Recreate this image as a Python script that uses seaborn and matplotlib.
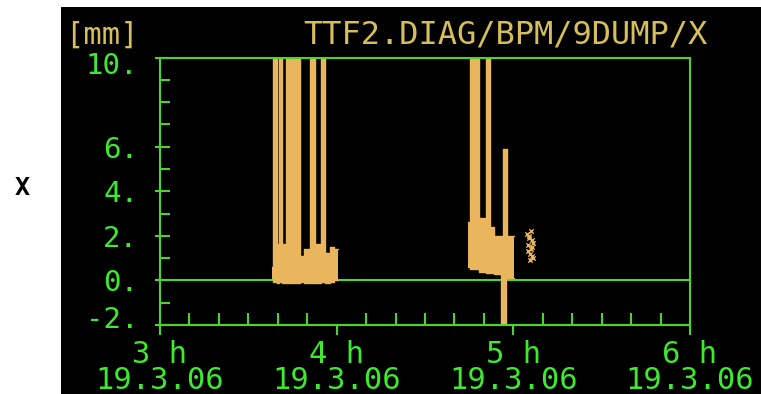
import pandas as pd
import matplotlib
matplotlib.use('Agg')
import matplotlib.pyplot as plt
from matplotlib.patches import Rectangle
from matplotlib.ticker import MultipleLocator
from matplotlib.transforms import ScaledTranslation
import seaborn as sns

# BPM readout TTF2.DIAG/BPM/9DUMP/X, hours on 19.3.06
# envelope of the dense readout, as step segments (edge times, low/high per segment)
run1_edges = [3.634, 3.640, 3.662, 3.674, 3.691, 3.713, 3.792, 3.815, 3.849,
              3.877, 3.911, 3.934, 3.962, 3.985, 4.010]
run1_high = [0.6, 12, 1.65, 12, 1.65, 12, 1.1, 1.4, 12, 1.65, 12, 1.25, 1.5, 1.4]
run1_low = [0.1, -0.05, -0.1, -0.05, -0.1, -0.1, -0.05, -0.1, -0.1, -0.1,
            -0.05, -0.1, -0.05, 0.0]

run2_edges = [4.743, 4.755, 4.806, 4.845, 4.868, 4.891, 4.930, 4.941, 4.958,
              4.964, 5.002]
run2_high = [2.6, 12, 2.8, 12, 2.4, 2.0, 2.0, 5.9, 5.9, 2.0]
run2_low = [0.6, 0.5, 0.4, 0.35, 0.35, 0.3, -2.1, -2.1, 0.1, 0.1]

# sparse points after the second run
tail_t = [5.080, 5.083, 5.085, 5.088, 5.090, 5.093, 5.095, 5.098, 5.100,
          5.103, 5.105, 5.108, 5.110, 5.113]
tail_x = [2.1, 1.3, 1.6, 2.0, 1.9, 0.9, 1.2, 1.4, 2.2, 1.8, 1.5, 1.1, 1.0, 1.7]

y_ticks = [-2, 0, 2, 4, 6, 10]
y_ticklabels = ['-2.', '0.', '2.', '4.', '6.', '10.']
x_ticks = [3, 4, 5, 6]
x_ticklabels = ['3 h\n19.3.06', '4 h\n19.3.06', '5 h\n19.3.06', '6 h\n19.3.06']

ORANGE = '#E9B65E'
GREEN_LINE = '#4CD42C'
GREEN_TXT = '#3DEB2E'
TITLE_C = '#D6BE5C'
PX = 0.72  # points per pixel at dpi 100


def envelope(edges, low, high):
    return pd.DataFrame({'t': edges, 'low': low + low[-1:], 'high': high + high[-1:]})


sns.set_theme(style='white')
plt.rcParams['font.family'] = ['DejaVu Sans Mono', 'DejaVu Sans']

fig = plt.figure(figsize=(7.61, 3.94), dpi=100, facecolor='white')
fig.patches.append(Rectangle((61 / 761, 0), 700 / 761, 387 / 394,
                             transform=fig.transFigure, facecolor='black',
                             edgecolor='none', zorder=-10))
ax = fig.add_axes([160 / 761, 69 / 394, 530 / 761, 267.5 / 394])
ax.set_facecolor('black')

ax.axhline(0, color=GREEN_LINE, lw=1.5, zorder=1)

for env in (envelope(run1_edges, run1_low, run1_high),
            envelope(run2_edges, run2_low, run2_high)):
    ax.fill_between(env['t'], env['low'], env['high'], step='post',
                    color=ORANGE, lw=0, zorder=2)
    for col in ('low', 'high'):
        sns.lineplot(data=env, x='t', y=col, drawstyle='steps-post', color=ORANGE,
                     lw=1, estimator=None, sort=False, ax=ax, zorder=2)

sns.scatterplot(x=tail_t, y=tail_x, marker='x', s=10, color=ORANGE,
                linewidth=1, ax=ax, zorder=2)

ax.set_xlim(3, 6)
ax.set_ylim(-2, 10)
ax.set_xlabel('')
ax.set_ylabel('')

for sp in ax.spines.values():
    sp.set_visible(True)
    sp.set_color(GREEN_LINE)
    sp.set_linewidth(1.5)

ax.set_xticks(x_ticks)
ax.set_xticklabels(x_ticklabels, linespacing=0.85)
ax.xaxis.set_minor_locator(MultipleLocator(1 / 6))
ax.tick_params(axis='x', which='major', direction='in', length=22 * PX, width=1.5,
               color=GREEN_LINE, labelcolor=GREEN_TXT, labelsize=22, pad=11)
ax.tick_params(axis='x', which='minor', direction='in', length=12 * PX, width=1.5,
               color=GREEN_LINE, bottom=True)

sec = ax.secondary_xaxis('bottom')
sec.set_xticks(x_ticks)
sec.tick_params(direction='out', length=10 * PX, width=1.5, color=GREEN_LINE,
                labelbottom=False)
sec.spines['bottom'].set_color(GREEN_LINE)
sec.spines['bottom'].set_linewidth(1.5)

ax.set_yticks(y_ticks)
ax.set_yticklabels(y_ticklabels)
ax.yaxis.set_minor_locator(MultipleLocator(1))
ax.yaxis.remove_overlapping_locs = False
ax.tick_params(axis='y', which='major', direction='out', length=5 * PX, width=1.5,
               color=GREEN_LINE, labelcolor=GREEN_TXT, labelsize=21, pad=12, left=True)
ax.tick_params(axis='y', which='minor', direction='in', length=10 * PX, width=1.5,
               color=GREEN_LINE, left=True)

# end labels sit inside the frame, as on the scope display
for lab, dy in zip(ax.get_yticklabels(), [8, 0, 0, 0, 0, -5]):
    lab.set_transform(lab.get_transform() + ScaledTranslation(0, dy / 100, fig.dpi_scale_trans))

fig.text(65 / 761, 1 - 35 / 394, '[mm]', color=TITLE_C, fontsize=22,
         ha='left', va='center')
fig.text(707 / 761, 1 - 35 / 394, 'TTF2.DIAG/BPM/9DUMP/X', color=TITLE_C,
         fontsize=23, ha='right', va='center')
fig.text(22 / 761, 1 - 188 / 394, 'X', color='black', fontsize=18,
         fontweight='bold', ha='center', va='center')

fig.savefig('out.png', dpi=100)
